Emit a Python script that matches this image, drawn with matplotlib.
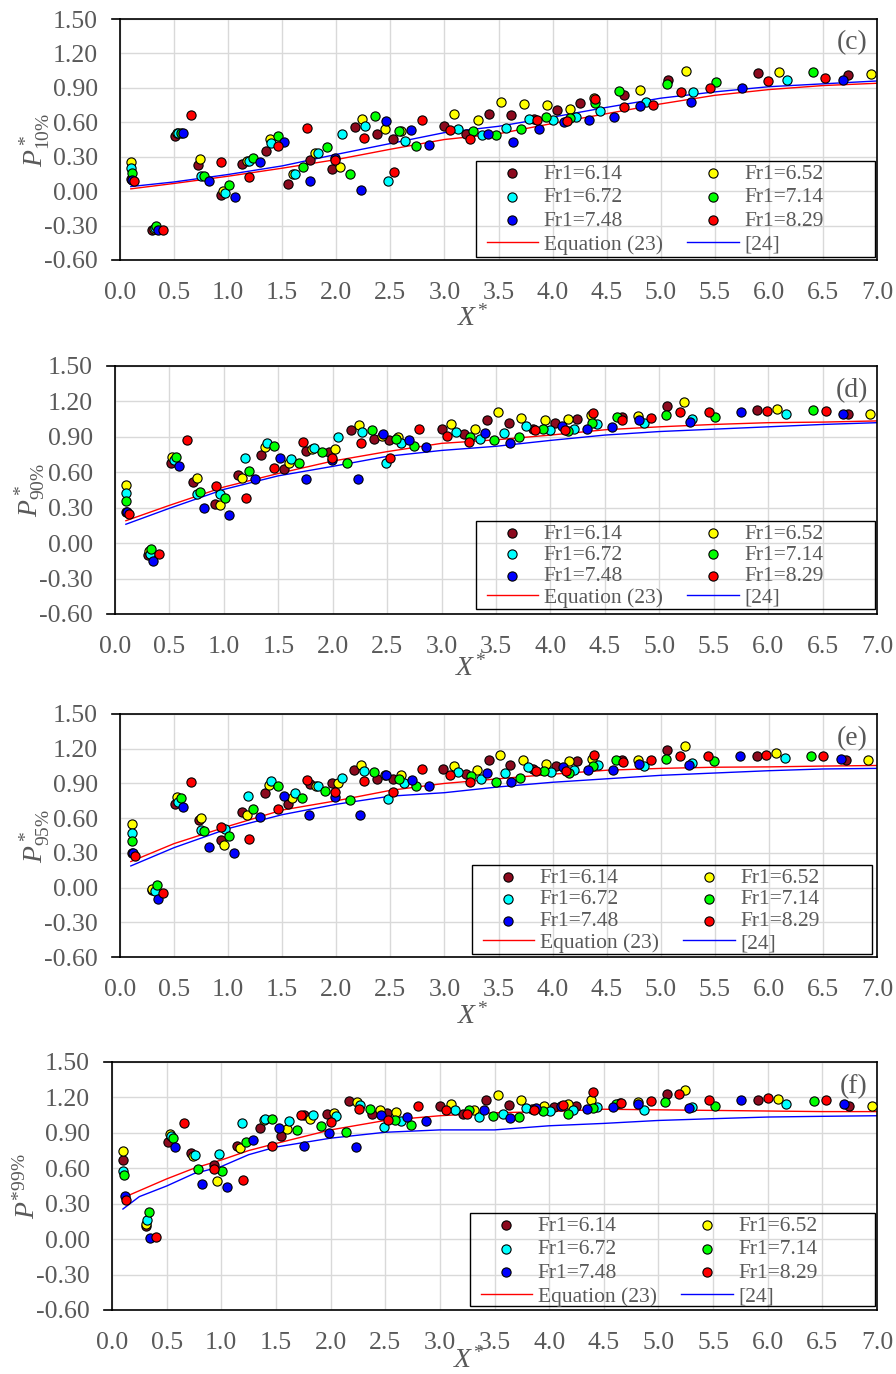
import matplotlib
matplotlib.use('Agg')
import matplotlib.pyplot as plt
from matplotlib.patches import Rectangle
from matplotlib.ticker import FormatStrFormatter, MultipleLocator

plt.rcParams['font.family'] = ['Liberation Serif', 'DejaVu Serif']
plt.rcParams['mathtext.fontset'] = 'custom'
plt.rcParams['mathtext.rm'] = 'Liberation Serif'
plt.rcParams['mathtext.it'] = 'Liberation Serif:italic'

# ---- data: (X*, P*) pairs per Froude number ----
# (c) P*10%
c_614 = [(0.10, 0.11), (0.30, -0.34), (0.51, 0.48), (0.72, 0.23), (0.93, -0.03), (1.13, 0.24), (1.35, 0.35),
         (1.55, 0.06), (1.76, 0.27), (1.96, 0.19), (2.17, 0.56), (2.38, 0.50), (2.52, 0.455), (3.00, 0.57),
         (3.20, 0.50), (3.41, 0.67), (3.62, 0.66), (3.83, 0.63), (4.04, 0.71), (4.25, 0.77), (4.66, 0.84),
         (5.07, 0.97), (5.90, 1.03), (6.73, 1.01)]
c_652 = [(0.10, 0.25), (0.31, -0.33), (0.53, 0.51), (0.74, 0.28), (0.95, 0.00), (1.17, 0.26), (1.39, 0.455),
         (1.60, 0.15), (1.80, 0.33), (2.03, 0.21), (2.24, 0.63), (2.45, 0.54), (2.60, 0.52), (3.09, 0.67),
         (3.31, 0.62), (3.52, 0.78), (3.74, 0.76), (3.95, 0.75), (4.16, 0.72), (4.38, 0.81), (4.81, 0.88),
         (5.23, 1.05), (6.09, 1.04), (6.94, 1.02)]
c_672 = [(0.10, 0.20), (0.32, -0.32), (0.54, 0.51), (0.75, 0.13), (0.97, -0.02), (1.19, 0.26), (1.40, 0.42),
         (1.62, 0.15), (1.83, 0.33), (2.05, 0.50), (2.27, 0.57), (2.48, 0.09), (2.64, 0.44), (3.13, 0.545),
         (3.35, 0.49), (3.57, 0.55), (3.78, 0.63), (4.00, 0.62), (4.22, 0.65), (4.44, 0.70), (4.86, 0.78),
         (5.30, 0.86), (6.17, 0.97)]
c_714 = [(0.11, 0.155), (0.33, -0.30), (0.56, 0.51), (0.78, 0.13), (1.01, 0.05), (1.23, 0.29), (1.46, 0.48),
         (1.69, 0.21), (1.91, 0.385), (2.13, 0.15), (2.36, 0.655), (2.58, 0.52), (2.74, 0.39), (3.26, 0.525),
         (3.48, 0.49), (3.71, 0.545), (3.94, 0.65), (4.16, 0.64), (4.39, 0.77), (4.61, 0.87), (5.06, 0.93),
         (5.51, 0.95), (6.41, 1.04)]
c_748 = [(0.11, 0.10), (0.35, -0.34), (0.58, 0.51), (0.82, 0.09), (1.06, -0.05), (1.29, 0.25), (1.52, 0.43),
         (1.76, 0.09), (1.99, 0.29), (2.23, 0.01), (2.46, 0.61), (2.69, 0.53), (2.86, 0.40), (3.40, 0.50),
         (3.63, 0.43), (3.87, 0.545), (4.11, 0.60), (4.34, 0.62), (4.57, 0.65), (4.81, 0.74), (5.28, 0.78),
         (5.75, 0.90), (6.69, 0.97)]
c_829 = [(0.13, 0.09), (0.40, -0.34), (0.66, 0.66), (0.93, 0.25), (1.19, 0.12), (1.46, 0.39), (1.73, 0.55),
         (1.99, 0.27), (2.26, 0.46), (2.53, 0.17), (2.79, 0.62), (3.05, 0.53), (3.24, 0.45), (3.86, 0.62),
         (4.13, 0.61), (4.39, 0.80), (4.66, 0.73), (4.93, 0.75), (5.19, 0.86), (5.46, 0.90), (5.99, 0.96),
         (6.52, 0.99)]

# (d) P*90%
d_614 = [(0.10, 0.26), (0.30, -0.10), (0.51, 0.68), (0.72, 0.52), (0.92, 0.335), (1.13, 0.575), (1.34, 0.75),
         (1.55, 0.63), (1.75, 0.78), (1.97, 0.77), (2.17, 0.96), (2.38, 0.88), (2.52, 0.87), (3.00, 0.97),
         (3.21, 0.92), (3.42, 1.045), (3.62, 1.015), (3.84, 0.97), (4.04, 1.015), (4.24, 1.05), (4.66, 1.07),
         (5.07, 1.16), (5.90, 1.13), (6.73, 1.09)]
d_652 = [(0.10, 0.49), (0.31, -0.07), (0.52, 0.73), (0.75, 0.555), (0.96, 0.325), (1.17, 0.555), (1.38, 0.81),
         (1.60, 0.68), (1.81, 0.795), (2.02, 0.795), (2.24, 1.00), (2.45, 0.91), (2.60, 0.90), (3.09, 1.01),
         (3.31, 0.97), (3.52, 1.11), (3.73, 1.06), (3.95, 1.04), (4.16, 1.055), (4.37, 1.085), (4.80, 1.075),
         (5.23, 1.195), (6.08, 1.135), (6.94, 1.095)]
d_672 = [(0.10, 0.425), (0.32, -0.09), (0.54, 0.705), (0.75, 0.415), (0.96, 0.415), (1.19, 0.725), (1.40, 0.85),
         (1.62, 0.715), (1.83, 0.805), (2.05, 0.90), (2.27, 0.945), (2.49, 0.68), (2.63, 0.85), (3.13, 0.94),
         (3.35, 0.88), (3.57, 0.935), (3.78, 0.99), (4.00, 0.96), (4.22, 0.97), (4.43, 1.01), (4.86, 1.02),
         (5.30, 1.05), (6.16, 1.095)]
d_714 = [(0.10, 0.36), (0.33, -0.05), (0.56, 0.73), (0.78, 0.435), (1.01, 0.385), (1.23, 0.615), (1.46, 0.825),
         (1.69, 0.68), (1.90, 0.77), (2.13, 0.68), (2.36, 0.955), (2.58, 0.88), (2.75, 0.82), (3.26, 0.90),
         (3.48, 0.87), (3.71, 0.895), (3.93, 0.97), (4.16, 0.95), (4.38, 1.015), (4.61, 1.065), (5.06, 1.085),
         (5.51, 1.07), (6.41, 1.125)]
d_748 = [(0.11, 0.26), (0.35, -0.155), (0.59, 0.655), (0.82, 0.30), (1.05, 0.24), (1.29, 0.54), (1.52, 0.72),
         (1.75, 0.54), (1.99, 0.705), (2.23, 0.54), (2.46, 0.925), (2.70, 0.87), (2.86, 0.81), (3.40, 0.93),
         (3.63, 0.85), (4.11, 0.99), (4.34, 0.97), (4.57, 0.985), (4.81, 1.04), (5.28, 1.025), (5.75, 1.11),
         (6.69, 1.09)]
d_829 = [(0.13, 0.25), (0.40, -0.09), (0.66, 0.87), (0.93, 0.48), (1.20, 0.385), (1.46, 0.64), (1.73, 0.855),
         (1.99, 0.725), (2.26, 0.85), (2.53, 0.72), (2.79, 0.965), (3.05, 0.91), (3.25, 0.86), (3.86, 0.96),
         (4.13, 0.96), (4.39, 1.105), (4.66, 1.045), (4.92, 1.06), (5.19, 1.11), (5.46, 1.11), (5.99, 1.12),
         (6.53, 1.115)]

# (e) P*95%
e_614 = [(0.11, 0.30), (0.30, -0.02), (0.51, 0.72), (0.73, 0.58), (0.93, 0.41), (1.13, 0.65), (1.34, 0.815),
         (1.55, 0.72), (1.76, 0.895), (1.96, 0.90), (2.16, 1.02), (2.38, 0.94), (2.52, 0.94), (2.99, 1.025),
         (3.20, 0.98), (3.41, 1.106), (3.61, 1.06), (3.82, 1.026), (4.03, 1.05), (4.23, 1.09), (4.64, 1.10),
         (5.06, 1.187), (5.89, 1.14), (6.71, 1.10)]
e_652 = [(0.11, 0.55), (0.30, -0.015), (0.53, 0.78), (0.745, 0.605), (0.96, 0.37), (1.17, 0.625), (1.38, 0.89),
         (1.59, 0.77), (1.81, 0.875), (2.02, 0.90), (2.23, 1.055), (2.45, 0.97), (2.60, 0.97), (3.09, 1.05),
         (3.30, 1.017), (3.51, 1.147), (3.73, 1.10), (3.94, 1.07), (4.15, 1.09), (4.36, 1.11), (4.79, 1.106),
         (5.22, 1.22), (6.07, 1.164), (6.92, 1.106)]
e_672 = [(0.11, 0.475), (0.32, -0.03), (0.54, 0.74), (0.75, 0.50), (0.97, 0.505), (1.18, 0.79), (1.40, 0.925),
         (1.615, 0.82), (1.83, 0.88), (2.05, 0.95), (2.26, 1.005), (2.48, 0.765), (2.63, 0.905), (3.13, 0.997),
         (3.34, 0.934), (3.56, 0.986), (3.77, 1.043), (3.99, 1.003), (4.20, 1.02), (4.42, 1.055), (4.85, 1.05),
         (5.29, 1.078), (6.15, 1.118)]
e_714 = [(0.11, 0.405), (0.34, 0.02), (0.56, 0.775), (0.78, 0.485), (1.01, 0.445), (1.23, 0.68), (1.46, 0.88),
         (1.68, 0.775), (1.90, 0.835), (2.13, 0.755), (2.35, 0.995), (2.58, 0.935), (2.74, 0.875), (3.25, 0.96),
         (3.48, 0.91), (3.70, 0.945), (3.92, 1.006), (4.15, 0.986), (4.37, 1.05), (4.59, 1.106), (5.05, 1.11),
         (5.49, 1.095), (6.39, 1.14)]
e_748 = [(0.12, 0.30), (0.35, -0.10), (0.58, 0.695), (0.82, 0.35), (1.05, 0.295), (1.29, 0.61), (1.52, 0.79),
         (1.75, 0.63), (1.99, 0.78), (2.22, 0.625), (2.46, 0.97), (2.70, 0.93), (2.86, 0.875), (3.39, 0.986),
         (3.62, 0.91), (4.10, 1.04), (4.33, 1.02), (4.56, 1.02), (4.80, 1.07), (5.26, 1.055), (5.73, 1.135),
         (6.67, 1.115)]
e_829 = [(0.135, 0.275), (0.40, -0.045), (0.66, 0.91), (0.93, 0.52), (1.19, 0.42), (1.46, 0.68), (1.73, 0.93),
         (1.99, 0.83), (2.26, 0.925), (2.52, 0.825), (2.79, 1.025), (3.05, 0.97), (3.24, 0.91), (3.85, 1.01),
         (4.12, 1.006), (4.38, 1.147), (4.65, 1.086), (4.91, 1.10), (5.18, 1.14), (5.44, 1.135), (5.97, 1.144),
         (6.50, 1.135)]

# (f) P*99%
f_614 = [(0.10, 0.67), (0.31, 0.115), (0.51, 0.82), (0.72, 0.73), (0.93, 0.63), (1.14, 0.785), (1.35, 0.94),
         (1.55, 0.875), (1.76, 1.05), (1.97, 1.06), (2.17, 1.17), (2.38, 1.056), (2.52, 1.07), (3.00, 1.124),
         (3.21, 1.056), (3.42, 1.18), (3.63, 1.138), (3.84, 1.10), (4.04, 1.12), (4.25, 1.13), (4.65, 1.15),
         (5.08, 1.226), (5.91, 1.175), (6.74, 1.124)]
f_652 = [(0.10, 0.75), (0.31, 0.13), (0.53, 0.89), (0.74, 0.70), (0.96, 0.495), (1.17, 0.77), (1.39, 1.005),
         (1.60, 0.93), (1.81, 1.02), (2.03, 1.07), (2.24, 1.165), (2.45, 1.09), (2.60, 1.076), (3.10, 1.144),
         (3.31, 1.093), (3.53, 1.217), (3.74, 1.18), (3.95, 1.13), (4.17, 1.147), (4.38, 1.18), (4.81, 1.158),
         (5.24, 1.26), (6.09, 1.19), (6.95, 1.13)]
f_672 = [(0.10, 0.58), (0.32, 0.16), (0.54, 0.87), (0.76, 0.715), (0.98, 0.72), (1.19, 0.98), (1.40, 1.02),
         (1.62, 1.003), (1.84, 1.05), (2.05, 1.04), (2.27, 1.135), (2.49, 0.946), (2.64, 1.003), (3.14, 1.09),
         (3.355, 1.034), (3.575, 1.056), (3.79, 1.107), (4.01, 1.088), (4.22, 1.09), (4.44, 1.12), (4.87, 1.096),
         (5.31, 1.116), (6.17, 1.147)]
f_714 = [(0.11, 0.54), (0.34, 0.23), (0.56, 0.855), (0.79, 0.595), (1.01, 0.58), (1.23, 0.82), (1.46, 1.017),
         (1.69, 0.925), (1.91, 0.96), (2.14, 0.91), (2.36, 1.10), (2.59, 1.01), (2.74, 0.97), (3.27, 1.096),
         (3.49, 1.04), (3.72, 1.034), (3.94, 1.088), (4.17, 1.062), (4.40, 1.11), (4.61, 1.147), (5.06, 1.16),
         (5.52, 1.124), (6.42, 1.172)]
f_748 = [(0.12, 0.365), (0.35, 0.01), (0.58, 0.78), (0.82, 0.47), (1.055, 0.445), (1.29, 0.84), (1.53, 0.94),
         (1.76, 0.79), (1.99, 0.90), (2.23, 0.78), (2.46, 1.05), (2.70, 1.037), (2.87, 1.003), (3.40, 1.09),
         (3.64, 1.023), (3.88, 1.11), (4.11, 1.124), (4.35, 1.10), (4.58, 1.12), (4.81, 1.147), (5.28, 1.11),
         (5.76, 1.18), (6.70, 1.147)]
f_829 = [(0.13, 0.33), (0.40, 0.02), (0.66, 0.985), (0.93, 0.59), (1.20, 0.50), (1.46, 0.79), (1.73, 1.05),
         (2.00, 0.994), (2.26, 1.10), (2.53, 1.005), (2.80, 1.13), (3.06, 1.09), (3.25, 1.06), (3.865, 1.093),
         (4.13, 1.133), (4.40, 1.25), (4.66, 1.15), (4.93, 1.17), (5.19, 1.226), (5.46, 1.18), (6.00, 1.195),
         (6.53, 1.178)]

# Equation (23) and reference [24] curves
line_x = [0.1, 0.5, 1.0, 1.5, 2.0, 2.5, 3.0, 3.5, 4.0, 4.5, 5.0, 5.5, 6.0, 6.5, 7.0]
c_eq23 = [0.02, 0.067, 0.13, 0.20, 0.275, 0.365, 0.45, 0.50, 0.59, 0.675, 0.76, 0.835, 0.885, 0.92, 0.94]
c_ref24 = [0.04, 0.08, 0.145, 0.22, 0.32, 0.415, 0.51, 0.565, 0.645, 0.73, 0.81, 0.865, 0.91, 0.935, 0.96]
d_eq23 = [0.19, 0.32, 0.475, 0.59, 0.695, 0.775, 0.845, 0.875, 0.915, 0.96, 0.985, 1.005, 1.02, 1.025, 1.035]
d_ref24 = [0.16, 0.295, 0.455, 0.57, 0.65, 0.735, 0.785, 0.82, 0.87, 0.915, 0.945, 0.965, 0.985, 1.005, 1.02]
e_eq23 = [0.225, 0.38, 0.53, 0.67, 0.75, 0.84, 0.90, 0.94, 0.98, 1.014, 1.03, 1.04, 1.043, 1.05, 1.055]
e_ref24 = [0.187, 0.345, 0.51, 0.63, 0.72, 0.79, 0.82, 0.87, 0.91, 0.94, 0.97, 0.99, 1.01, 1.025, 1.03]
line_x_f = [0.1, 0.25, 0.5, 0.75, 1.0, 1.25, 1.5, 2.0, 2.5, 3.0, 3.5, 4.0, 4.5, 5.0, 5.5, 6.0, 6.5, 7.0]
f_eq23 = [0.35, 0.41, 0.51, 0.60, 0.67, 0.75, 0.81, 0.925, 1.005, 1.045, 1.07, 1.08, 1.10, 1.095, 1.09,
          1.085, 1.08, 1.08]
f_ref24 = [0.255, 0.36, 0.45, 0.555, 0.615, 0.715, 0.78, 0.855, 0.905, 0.925, 0.925, 0.96, 0.98, 1.005,
           1.02, 1.034, 1.04, 1.045]

fr_labels = ['Fr1=6.14', 'Fr1=6.52', 'Fr1=6.72', 'Fr1=7.14', 'Fr1=7.48', 'Fr1=8.29']
fr_colors = ['#8C0A1E', '#FFFF00', '#00FFFF', '#00FF00', '#0000FF', '#FF0000']

panels = [
    ('(c)', r'$P^*_{10\%}$', [c_614, c_652, c_672, c_714, c_748, c_829], line_x, c_eq23, c_ref24),
    ('(d)', r'$P^*_{90\%}$', [d_614, d_652, d_672, d_714, d_748, d_829], line_x, d_eq23, d_ref24),
    ('(e)', r'$P^*_{95\%}$', [e_614, e_652, e_672, e_714, e_748, e_829], line_x, e_eq23, e_ref24),
    ('(f)', r'$P^{*99\%}$', [f_614, f_652, f_672, f_714, f_748, f_829], line_x_f, f_eq23, f_ref24),
]

# pixel boxes (left, right, top, bottom) of each plot area and its legend frame
W, H = 896, 1374
ax_boxes = [(120, 877, 19, 260), (115, 877, 366, 614), (120, 877, 714, 957), (112, 877, 1062, 1310)]
leg_boxes = [(476, 875, 161, 257), (476, 875, 521, 609), (472, 872, 865, 954), (470, 875, 1213, 1306)]
leg_spacing = [0.17, 0.06, 0.08, 0.17]
xlab_drop = [58, 54, 59, 50]

grey = '#595959'
fig = plt.figure(figsize=(W / 100, H / 100), dpi=100)

for i, (tag, ylab, series, lx, eq, ref) in enumerate(panels):
    l, r, t, b = ax_boxes[i]
    ll, lr, lt, lb = leg_boxes[i]
    ax = fig.add_axes([l / W, 1 - b / H, (r - l) / W, (b - t) / H])
    pw, ph = r - l, b - t

    handles = {}
    for lab, col, pts in zip(fr_labels, fr_colors, series):
        xs, ys = zip(*pts)
        handles[lab] = ax.scatter(xs, ys, s=44, c=col, edgecolors='black', linewidths=0.8,
                                  zorder=3, label=lab)
    h_eq, = ax.plot(lx, eq, color='#FF0000', lw=1.0, zorder=2, label='Equation (23)')
    h_ref, = ax.plot(lx, ref, color='#0000FF', lw=1.0, zorder=2, label='[24]')

    ax.set_xlim(0, 7)
    ax.set_ylim(-0.6, 1.5)
    ax.xaxis.set_major_locator(MultipleLocator(0.5))
    ax.yaxis.set_major_locator(MultipleLocator(0.3))
    ax.xaxis.set_major_formatter(FormatStrFormatter('%.1f'))
    ax.yaxis.set_major_formatter(FormatStrFormatter('%.2f'))
    ax.tick_params(length=0, labelsize=18.5, labelcolor=grey)
    ax.tick_params(axis='x', pad=16)
    ax.tick_params(axis='y', pad=16)
    ax.grid(True, color='#D9D9D9', lw=1.0)
    ax.set_axisbelow(True)
    for sp in ax.spines.values():
        sp.set_color('black')
        sp.set_linewidth(1.2)
    # short stubs where top and bottom borders run past the y axis
    for yy in (0, 1):
        ax.plot([-8 / pw, 0], [yy, yy], transform=ax.transAxes, color='black', lw=1.2, clip_on=False)

    ax.set_ylabel(ylab, fontsize=20, color=grey)
    ax.yaxis.set_label_coords(-85 / pw, 0.5)
    ax.yaxis.label.set_va('center')
    ax.text(0.466, -xlab_drop[i] / ph, r'$X^{\!*}$', transform=ax.transAxes, fontsize=20, color=grey,
            ha='center', va='center')
    ax.text(0.988, 0.90, tag, transform=ax.transAxes, fontsize=20, color=grey, ha='right', va='center')

    # legend frame drawn separately (transparent, gridlines show through)
    ax.add_patch(Rectangle(((ll - l) / pw, (b - lb) / ph), (lr - ll) / pw, (lb - lt) / ph,
                           transform=ax.transAxes, fill=False, edgecolor='black', lw=1.0, zorder=4))
    hs = [handles['Fr1=6.14'], handles['Fr1=6.72'], handles['Fr1=7.48'], h_eq,
          handles['Fr1=6.52'], handles['Fr1=7.14'], handles['Fr1=8.29'], h_ref]
    leg = ax.legend(handles=hs, labels=[h.get_label() for h in hs], ncol=2, loc='upper left',
                    bbox_to_anchor=((ll + 8 - l) / pw, (b - lt) / ph), borderaxespad=0,
                    fontsize=15.5, frameon=False, labelspacing=leg_spacing[i], handlelength=2.4,
                    handletextpad=0.25, borderpad=0.12, columnspacing=1.15, labelcolor=grey,
                    scatterpoints=1)
    leg.set_zorder(5)

fig.savefig('out.png', dpi=100)
